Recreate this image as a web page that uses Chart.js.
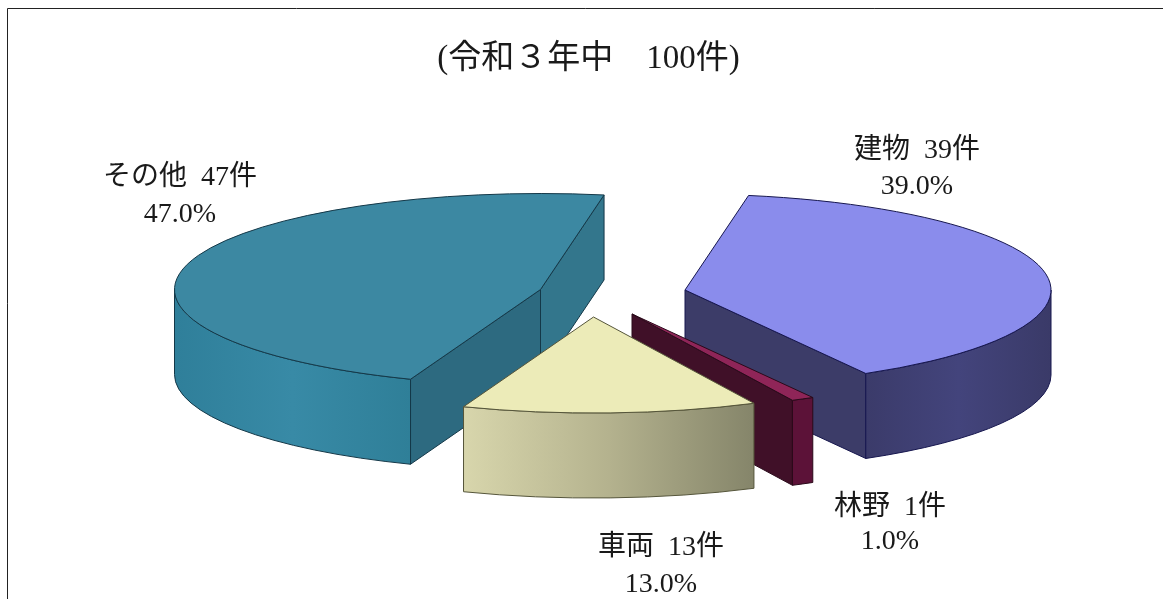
<!DOCTYPE html>
<html lang="ja">
<head>
<meta charset="utf-8">
<title>令和3年中</title>
<script src="https://cdn.jsdelivr.net/npm/chart.js@4"></script>
<style>
  html, body { margin: 0; padding: 0; background: #fff; overflow: hidden; }
  canvas { display: block; }
</style>
</head>
<body>
<canvas id="chart" width="1163" height="599"></canvas>
<script>
// データ
const categories = ['建物', '林野', '車両', 'その他'];
const counts = [39, 1, 13, 47];
const percents = [39.0, 1.0, 13.0, 47.0];
const titleText = '(令和３年中　100件)';

// 見た目
const topColors = ['#8a8cec', '#8f2558', '#ecebb8', '#3c88a2'];
const faceColors = ['#3c3c68', '#401028', '#8a8a6c', '#2d6a80'];
const face2Colors = ['#3c3c68', '#401028', '#8a8a6c', '#33768c'];
const wallStops = [
  ['#3b3b6a', '#43447c', '#3a3a68'],
  ['#5c1238', '#5c1238', '#5c1238'],
  ['#d8d6ac', '#b4b28e', '#85856a'],
  ['#2f7f9a', '#388aa6', '#2f7f98']
];
const edgeColors = ['#16164e', '#2a0a1a', '#55553a', '#143848'];
const explode = [[96.5, -52.8], [43.5, -28.8], [5, -25.8], [-48, -53.3]];
const labelAt = [[917, 151, 187], [890, 508, 542], [661, 548, 585], [180, 178, 215]];
const drawOrder = [3, 0, 1, 2];
const rx = 366, ry = 96, depth = 85;
const fontFamily = '"Liberation Serif", "Noto Sans CJK JP"';

// 爆発した3D円グラフを描くプラグイン
const pie3d = {
  id: 'pie3d',
  beforeDraw(chart) {
    const ctx = chart.ctx;
    ctx.save();
    ctx.strokeStyle = '#222';
    ctx.lineWidth = 1;
    ctx.beginPath();
    ctx.moveTo(7.5, 599);
    ctx.lineTo(7.5, 8.5);
    ctx.lineTo(1163, 8.5);
    ctx.stroke();
    ctx.restore();
  },
  beforeDatasetDraw(chart) {
    const ctx = chart.ctx;
    const arcs = chart.getDatasetMeta(0).data;

    drawOrder.forEach(i => {
      const arc = arcs[i];
      const cx = arc.x + explode[i][0];
      const cy = arc.y + explode[i][1];
      const s = arc.startAngle, e = arc.endAngle;
      const px = t => cx + rx * Math.cos(t);
      const py = t => cy + ry * Math.sin(t);

      ctx.save();
      ctx.lineWidth = 1;
      ctx.strokeStyle = edgeColors[i];

      // 切り口
      const face = (t, color) => {
        ctx.beginPath();
        ctx.moveTo(cx, cy);
        ctx.lineTo(px(t), py(t));
        ctx.lineTo(px(t), py(t) + depth);
        ctx.lineTo(cx, cy + depth);
        ctx.closePath();
        ctx.fillStyle = color;
        ctx.fill();
        ctx.stroke();
      };
      if (Math.cos(e) > 0) face(e, face2Colors[i]);
      if (Math.cos(s) < 0) face(s, faceColors[i]);

      // 外側の壁 (手前に見える 0〜180度の範囲だけ)
      const t1 = Math.max(s, 0);
      const t2 = Math.min(e, Math.PI);
      if (t2 > t1) {
        // グラデーションは常に左から右へ
        const grad = ctx.createLinearGradient(px(t2), 0, px(t1), 0);
        wallStops[i].forEach((c, k) => grad.addColorStop(k / 2, c));
        ctx.beginPath();
        ctx.ellipse(cx, cy, rx, ry, 0, t1, t2);
        ctx.ellipse(cx, cy + depth, rx, ry, 0, t2, t1, true);
        ctx.closePath();
        ctx.fillStyle = grad;
        ctx.fill();
        ctx.stroke();
      }

      // 上面はChart.jsのarcをつぶして描く
      ctx.save();
      ctx.translate(cx, cy);
      ctx.scale(rx / arc.outerRadius, ry / arc.outerRadius);
      ctx.translate(-arc.x, -arc.y);
      arc.draw(ctx);
      ctx.restore();

      ctx.beginPath();
      ctx.moveTo(cx, cy);
      ctx.ellipse(cx, cy, rx, ry, 0, s, e);
      ctx.closePath();
      ctx.stroke();
      ctx.restore();
    });
    return false;
  },
  afterDatasetsDraw(chart) {
    const ctx = chart.ctx;
    ctx.save();
    ctx.fillStyle = '#1a1a1a';
    ctx.font = '28px ' + fontFamily;
    ctx.textAlign = 'center';
    ctx.textBaseline = 'middle';
    categories.forEach((name, i) => {
      const [x, y1, y2] = labelAt[i];
      ctx.fillText(name + '  ' + counts[i] + '件', x, y1);
      ctx.fillText(percents[i].toFixed(1) + '%', x, y2);
    });
    ctx.restore();
  }
};

const ctx = document.getElementById('chart').getContext('2d');
new Chart(ctx, {
  type: 'pie',
  data: {
    labels: categories,
    datasets: [{
      data: counts,
      backgroundColor: topColors,
      borderWidth: 0
    }]
  },
  options: {
    responsive: false,
    animation: false,
    rotation: 10,
    layout: { padding: { left: 14 } },
    plugins: {
      legend: { display: false },
      tooltip: { enabled: false },
      title: {
        display: true,
        text: titleText,
        color: '#1a1a1a',
        font: { family: fontFamily, size: 33, weight: 'normal', lineHeight: 1.2 },
        padding: { top: 40, bottom: 7 }
      }
    }
  },
  plugins: [pie3d]
});
</script>
</body>
</html>
